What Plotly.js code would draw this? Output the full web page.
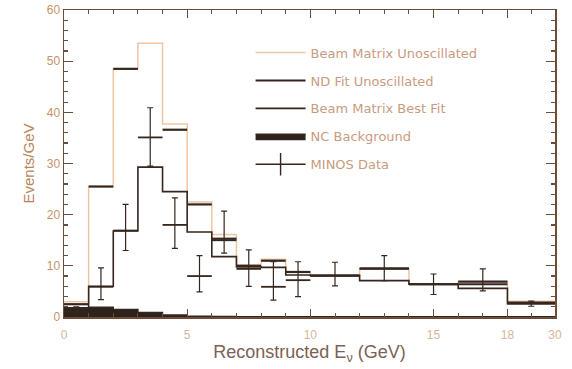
<!DOCTYPE html>
<html>
<head>
<meta charset="utf-8">
<script src="https://cdn.plot.ly/plotly-3.0.1.min.js"></script>
<style>body{margin:0;background:#fff}#chart{width:572px;height:369px}</style>
</head>
<body>
<div id="chart"></div>
<script>
// Bin edges in reconstructed energy (GeV)
const binEdges = [0,1,2,3,4,5,6,7,8,9,10,12,14,16,18,30];
// Events/GeV per bin (null = not visible in the reference)
const beamMatrixUnosc = [3.0, 25.5, 48.5, 53.5, 37.7, 22.5, 16.1, 10.2, 11.3, 8.8, 8.1, 9.5, 6.4, 6.9, 3.1];
const ndFitUnosc      = [2.5, 25.5, 48.5, null, 36.6, 22.0, 15.3, 10.0, 11.0, 8.8, 8.1, 9.5, 6.4, 6.9, 2.8];
const beamMatrixBest  = [1.8, 6.0, 16.8, 29.3, 24.5, 16.6, 11.8, 9.8, 9.7, 8.2, 8.1, 7.1, 6.4, 5.6, 2.6];
const ncBackground    = [1.7, 1.9, 1.5, 0.9, 0.4, 0.15, 0.1, 0.05, 0.05, 0.05, 0.05, 0.05, 0.05, 0.05, 0.05];
// MINOS data
const dataE      = [0.5, 1.5, 2.5, 3.5, 4.5, 5.5, 6.5, 7.5, 8.5, 9.5, 11, 13, 15, 17, 24];
const dataVal    = [1.0, 5.9, 16.9, 35.1, 18.0, 8.0, 15.0, 9.4, 5.9, 7.2, 8.1, 9.4, 6.4, 6.4, 2.6];
const dataErrUp  = [1.0, 3.7, 5.1, 5.8, 5.3, 4.0, 5.7, 3.7, 4.9, 3.6, 2.6, 2.6, 2.0, 3.0, 0.5];
const dataErrDn  = [1.0, 2.5, 3.9, 5.6, 4.6, 3.1, 2.5, 3.4, 2.6, 3.2, 2.0, 2.3, 2.0, 1.3, 0.5];
const xTickVals  = [0, 5, 10, 15, 18, 30];
const xTickText  = ['0', '5', '10', '15', '18', '30'];

// axis is linear up to 18 GeV, the 18-30 GeV bin is compressed
const BREAK = 18, SQUEEZE = 1.93 / 12;
const disp = e => e <= BREAK ? e : BREAK + (e - BREAK) * SQUEEZE;

function stepXY(vals) {
  const x = binEdges.map(disp);
  const y = vals.concat([vals[vals.length - 1]]);
  return {x, y};
}
function segXY(vals) {
  const x = [], y = [];
  vals.forEach((v, i) => { x.push(disp(binEdges[i]), disp(binEdges[i + 1]), null); y.push(v, v, null); });
  return {x, y};
}
const halfW = dataE.map((e, i) => (disp(binEdges[i + 1]) - disp(binEdges[i])) / 2);

const dark = '#35261e';
const light = '#efc6a4';
const s1 = stepXY(beamMatrixUnosc), s2 = segXY(ndFitUnosc), s3 = stepXY(beamMatrixBest), s4 = stepXY(ncBackground);

const traces = [
  {x: s4.x, y: s4.y, type: 'scatter', mode: 'lines', line: {shape: 'hv', color: dark, width: 1.4},
   fill: 'tozeroy', fillcolor: '#2e221c', name: 'NC Background', legendrank: 4, legendgroup: 'd'},
  {x: s1.x, y: s1.y, type: 'scatter', mode: 'lines', line: {shape: 'hv', color: light, width: 1.5},
   name: 'Beam Matrix Unoscillated', legendrank: 1, legendgroup: 'a'},
  {x: s2.x, y: s2.y, type: 'scatter', mode: 'lines', line: {color: dark, width: 2.2},
   name: 'ND Fit Unoscillated', legendrank: 2, legendgroup: 'b', connectgaps: false},
  {x: s3.x, y: s3.y, type: 'scatter', mode: 'lines', line: {shape: 'hv', color: dark, width: 1.6},
   name: 'Beam Matrix Best Fit', legendrank: 3, legendgroup: 'c'},
  {x: dataE.map(disp), y: dataVal, type: 'scatter', mode: 'markers', marker: {size: 1, color: dark},
   error_y: {type: 'data', symmetric: false, array: dataErrUp, arrayminus: dataErrDn, color: dark, thickness: 1.2, width: 3},
   error_x: {type: 'data', array: halfW, color: dark, thickness: 1.8, width: 0},
   showlegend: false, hoverinfo: 'skip'},
  {x: [null], y: [null], type: 'scatter', mode: 'lines+markers', line: {color: dark, width: 1.6},
   marker: {symbol: 'line-ns-open', size: 16, color: dark, line: {color: dark, width: 1.4}},
   name: 'MINOS Data', legendrank: 5, legendgroup: 'e'}
];

const axisCol = '#6e4c38';
const layout = {
  width: 572, height: 369,
  margin: {l: 64, r: 17, t: 10, b: 52},
  paper_bgcolor: '#fff', plot_bgcolor: '#fff',
  font: {family: 'Liberation Sans, Arial, sans-serif', color: '#c4957a'},
  showlegend: true,
  legend: {x: 0.38, y: 0.91, xanchor: 'left', yanchor: 'top', bgcolor: 'rgba(0,0,0,0)',
           font: {family: 'DejaVu Sans, sans-serif', size: 13, color: '#c99b80'},
           itemwidth: 50, tracegroupgap: 8, traceorder: 'grouped'},
  xaxis: {
    range: [0, disp(30)], tickmode: 'array', tickvals: xTickVals.map(disp), ticktext: xTickText,
    ticks: 'inside', ticklen: 8, tickwidth: 1, tickcolor: axisCol,
    minor: {tickmode: 'array', tickvals: [1,2,3,4,6,7,8,9,11,12,13,14,16,17,24].map(disp), ticklen: 4, tickcolor: axisCol, ticks: 'inside'},
    showline: true, linecolor: axisCol, linewidth: 1.5, mirror: 'ticks', showgrid: false, zeroline: false,
    tickfont: {size: 12, color: '#d8b49c'}, ticklabelstandoff: 6,
    title: {text: 'Reconstructed E<sub>ν</sub> (GeV)', font: {size: 18, color: '#7a6254'}, standoff: 4}
  },
  yaxis: {
    range: [0, 60], tickmode: 'array', tickvals: [0,10,20,30,40,50,60],
    ticks: 'inside', ticklen: 9, tickwidth: 1.2, tickcolor: axisCol,
    minor: {dtick: 2, ticklen: 4, tickcolor: axisCol, ticks: 'inside'},
    showline: true, linecolor: axisCol, linewidth: 1.5, mirror: 'ticks', showgrid: false, zeroline: false,
    tickfont: {size: 12, color: '#c9926a'},
    title: {text: 'Events/GeV', font: {size: 15, color: '#b9845e'}, standoff: 8}
  }
};

Plotly.newPlot('chart', traces, layout, {displayModeBar: false, staticPlot: true});
</script>
</body>
</html>
